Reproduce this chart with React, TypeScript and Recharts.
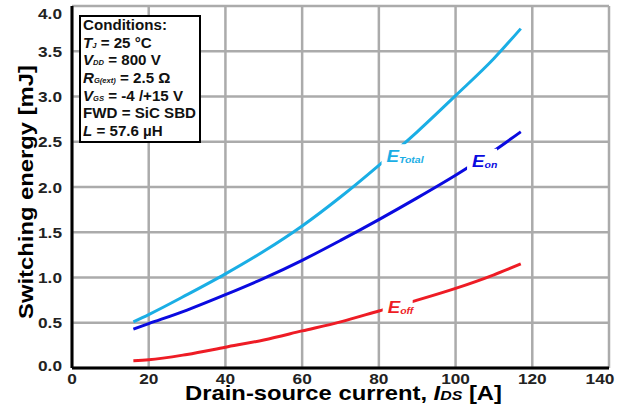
import { LineChart, Line, XAxis, YAxis, CartesianGrid, ReferenceDot } from 'recharts'

const current = [16, 20, 30, 40, 50, 60, 70, 80, 90, 100, 110, 117]
const eTotal = [0.51, 0.59, 0.81, 1.04, 1.29, 1.57, 1.89, 2.24, 2.61, 3.01, 3.42, 3.75]
const eOn = [0.43, 0.49, 0.64, 0.81, 0.99, 1.19, 1.41, 1.64, 1.88, 2.13, 2.4, 2.61]
const eOff = [0.08, 0.09, 0.15, 0.23, 0.31, 0.41, 0.51, 0.63, 0.75, 0.88, 1.03, 1.15]

const xTicks = [0, 20, 40, 60, 80, 100, 120, 140]
const yTicks = [0, 0.5, 1, 1.5, 2, 2.5, 3, 3.5, 4]

const conditions = [
  { main: 'T', sub: 'J', rest: ' = 25 °C', italic: true },
  { main: 'V', sub: 'DD', rest: ' = 800 V', italic: true },
  { main: 'R', sub: 'G(ext)', rest: ' = 2.5 Ω', italic: true },
  { main: 'V', sub: 'GS', rest: ' = -4 /+15 V', italic: true },
  { main: 'FWD', sub: '', rest: ' = SiC SBD', italic: false },
  { main: 'L', sub: '', rest: ' = 57.6 µH', italic: true },
]

const data = current.map((x, i) => ({ x, eTotal: eTotal[i], eOn: eOn[i], eOff: eOff[i] }))

const FONT = '"Liberation Sans", Arial, sans-serif'
const C_TOTAL = '#1aaee5'
const C_ON = '#0a0ae0'
const C_OFF = '#ee1c25'
const GRID = '#ababab'

function CurveLabel(props: any) {
  const { cx, cy, sub, color, w } = props
  return (
    <g>
      <rect x={cx - 5} y={cy - 12} width={w} height={22} fill="#fff" />
      <text transform={`translate(${cx} ${cy + 6}) scale(1.1 1)`} fill={color} fontFamily={FONT} fontStyle="italic" fontWeight="bold" fontSize={17}>
        E
        <tspan fontSize={9.5} dy={1}>{sub}</tspan>
      </text>
    </g>
  )
}

function XTick(props: any) {
  const { x, y, payload, index } = props
  const shift = index === xTicks.length - 1 ? -9 : 0
  return (
    <text transform={`translate(${x + shift} ${y - 1}) scale(1.15 1)`} dy="0.71em" textAnchor="middle" fill="#222" fontFamily={FONT} fontWeight="bold" fontSize={15}>
      {payload.value}
    </text>
  )
}

function YTick(props: any) {
  const { x, y, payload } = props
  const shift = payload.value === 4 ? 4 : payload.value === 0 ? -3 : 0
  return (
    <text transform={`translate(${x} ${y + shift}) scale(1.15 1)`} dominantBaseline="central" textAnchor="end" fill="#222" fontFamily={FONT} fontWeight="bold" fontSize={15}>
      {payload.value.toFixed(1)}
    </text>
  )
}

export default function App() {
  return (
    <div style={{ position: 'absolute', left: 0, top: 0, width: 626, height: 419, background: '#fff' }}>
      <LineChart width={626} height={419} data={data} margin={{ top: 6, right: 17, bottom: 0, left: 0 }}>
        <CartesianGrid stroke={GRID} strokeOpacity={1} strokeWidth={2.5} />
        <XAxis
          type="number"
          dataKey="x"
          domain={[0, 140]}
          ticks={xTicks}
          height={51}
          axisLine={{ stroke: '#000', strokeWidth: 3 }}
          tickLine={false}
          tickMargin={0}
          tick={<XTick />}
          label={{
            value: 'Drain-source current, I_DS [A]',
            content: (p: any) => {
              const vb = p.viewBox
              return (
                <text transform={`translate(${vb.x + vb.width / 2 + 3} 400) scale(1.22 1)`} textAnchor="middle" fontFamily={FONT} fontWeight="bold" fontSize={19.5} fill="#000">
                  Drain-source current,{' '}
                  <tspan fontStyle="italic">I</tspan>
                  <tspan fontStyle="italic" fontSize={13}>DS</tspan>
                  <tspan> [A]</tspan>
                </text>
              )
            },
          }}
        />
        <XAxis xAxisId="top" orientation="top" type="number" domain={[0, 140]} height={0} tick={false} tickLine={false} axisLine={{ stroke: '#000', strokeWidth: 3 }} />
        <YAxis
          type="number"
          domain={[0, 4]}
          ticks={yTicks}
          width={72}
          axisLine={{ stroke: '#000', strokeWidth: 3 }}
          tickLine={false}
          tickMargin={4}
          tick={<YTick />}
          label={{
            value: 'Switching energy [mJ]',
            content: (p: any) => {
              const vb = p.viewBox
              const cy = vb.y + vb.height / 2 + 5
              return (
                <text transform={`translate(26 ${cy}) rotate(-90) scale(1.22 1)`} textAnchor="middle" dominantBaseline="central" fontFamily={FONT} fontWeight="bold" fontSize={19.5} fill="#000">
                  Switching energy [mJ]
                </text>
              )
            },
          }}
        />
        <YAxis yAxisId="right" orientation="right" type="number" domain={[0, 4]} width={0} tick={false} tickLine={false} axisLine={{ stroke: '#000', strokeWidth: 3 }} />
        <Line type="monotone" dataKey="eTotal" stroke={C_TOTAL} strokeWidth={3} dot={false} isAnimationActive={false} />
        <Line type="monotone" dataKey="eOn" stroke={C_ON} strokeWidth={3} dot={false} isAnimationActive={false} />
        <Line type="monotone" dataKey="eOff" stroke={C_OFF} strokeWidth={3} dot={false} isAnimationActive={false} />
        <ReferenceDot x={82} y={2.34} shape={(p: any) => <CurveLabel {...p} sub="Total" color={C_TOTAL} w={44} />} />
        <ReferenceDot x={104.3} y={2.29} shape={(p: any) => <CurveLabel {...p} sub="on" color={C_ON} w={30} />} />
        <ReferenceDot x={82.3} y={0.67} shape={(p: any) => <CurveLabel {...p} sub="off" color={C_OFF} w={30} />} />
      </LineChart>
      <div
        style={{
          position: 'absolute',
          left: 79,
          top: 15,
          width: 122,
          height: 128,
          boxSizing: 'border-box',
          border: '2px solid #000',
          background: '#fff',
          padding: '0 2px',
          fontFamily: FONT,
          fontWeight: 'bold',
          fontSize: 14,
          color: '#111',
          whiteSpace: 'nowrap',
        }}
      >
        <div style={{ transform: 'scaleX(1.08)', transformOrigin: '0 0' }}>
          <div style={{ height: 17.7, lineHeight: '17.7px' }}>Conditions:</div>
          {conditions.map((c, i) => (
            <div key={i} style={{ height: 17.7, lineHeight: '17.7px' }}>
              <span style={{ fontStyle: c.italic ? 'italic' : 'normal' }}>{c.main}</span>
              {c.sub && <span style={{ fontStyle: 'italic', fontSize: 7, lineHeight: '7px' }}>{c.sub}</span>}
              <span>{c.rest}</span>
            </div>
          ))}
        </div>
      </div>
    </div>
  )
}
